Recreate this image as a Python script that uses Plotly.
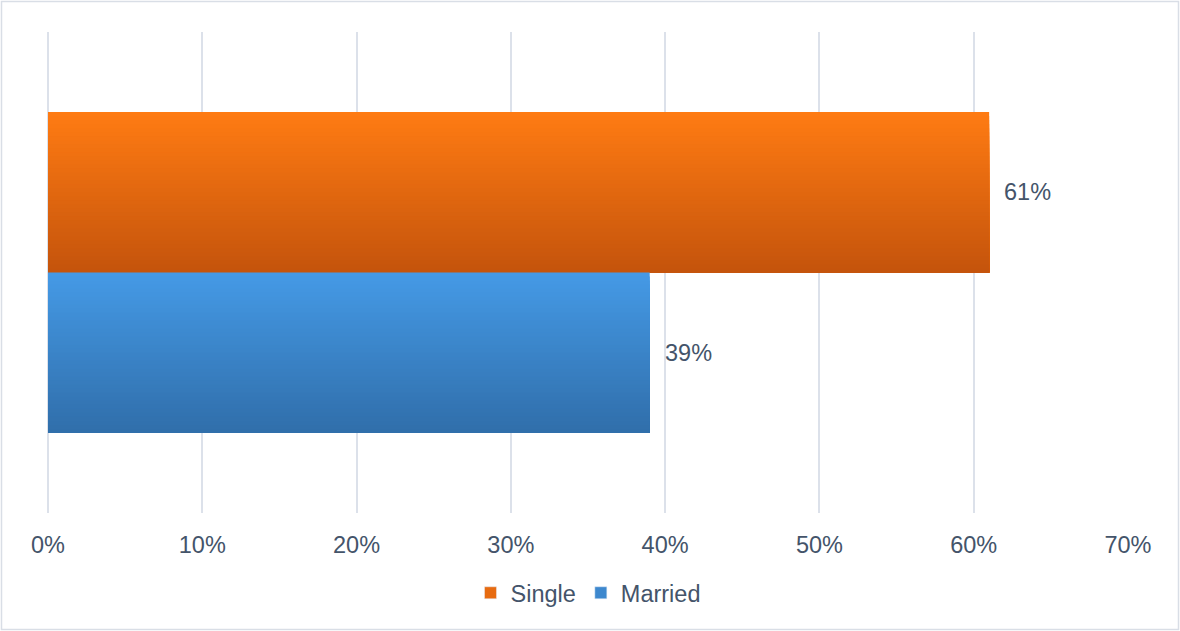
import plotly.graph_objects as go

# Share of respondents by marital status
series = ["Single", "Married"]
shares = [0.61, 0.39]

# Vertical gradient stops (top colour, bottom colour) for each series
grad_top = {"Single": (255, 123, 19), "Married": (69, 154, 230)}
grad_bottom = {"Single": (196, 84, 12), "Married": (48, 110, 170)}

x_ticks = [0, 0.1, 0.2, 0.3, 0.4, 0.5, 0.6, 0.7]

TEXT = "#44546A"
GRID = "#DCE1EA"
FONT = "Liberation Sans, Arial, sans-serif"
FS = 23.5

BAR_H = 0.3335      # thickness of each bar on the hidden y scale
STRIPS = 40         # layers used to shade each bar


def mix(c0, c1, t):
    return "rgb({},{},{})".format(*[round(a + (b - a) * t) for a, b in zip(c0, c1)])


fig = go.Figure()

# Single sits above the centre line, Married below it
bar_bottom = {"Single": 0.0, "Married": -BAR_H}

for name, val in zip(series, shares):
    step = BAR_H / STRIPS
    widths, colors = [], []
    # every layer starts at the bar's bottom edge; taller layers are drawn first
    # and the shorter, darker ones are painted over them, so no seams appear
    for k in range(STRIPS):
        widths.append(BAR_H - k * step)
        colors.append(mix(grad_top[name], grad_bottom[name], (k + 0.5) / STRIPS))
    fig.add_trace(go.Bar(
        name=name,
        orientation="h",
        x=[val] * STRIPS,
        y=[0] * STRIPS,
        base=0,
        offset=[bar_bottom[name]] * STRIPS,
        width=widths,
        marker=dict(color=colors, line=dict(width=0)),
        showlegend=False,
        hoverinfo="skip",
    ))
    # legend swatch
    fig.add_trace(go.Bar(
        name=name,
        orientation="h",
        x=[None],
        y=[None],
        marker=dict(color=mix(grad_top[name], grad_bottom[name], 0.4)),
        showlegend=True,
        hoverinfo="skip",
    ))
    fig.add_annotation(
        x=val, y=bar_bottom[name] + BAR_H / 2,
        xref="x", yref="y",
        text=f"{val:.0%}",
        showarrow=False,
        xanchor="left", yanchor="middle",
        xshift=13,
        font=dict(family=FONT, size=FS, color=TEXT),
    )

L, R, T, B = 48, 52, 32, 118
W, H = 1180, 631
pw, ph = W - L - R, H - T - B

# outer chart border
fig.add_shape(
    type="rect", xref="paper", yref="paper",
    x0=(1.5 - L) / pw, x1=(W - 1.5 - L) / pw,
    y0=-(H - 1.5 - T - ph) / ph, y1=1 + (T - 1.5) / ph,
    line=dict(color="#D9DEE6", width=1.5),
    fillcolor="rgba(0,0,0,0)",
    layer="below",
)

fig.update_layout(
    width=W, height=H,
    margin=dict(l=L, r=R, t=T, b=B),
    paper_bgcolor="white",
    plot_bgcolor="white",
    barmode="overlay",
    font=dict(family=FONT, size=FS, color=TEXT),
    showlegend=True,
    legend=dict(
        orientation="h",
        x=0.5, xanchor="center",
        y=-(593 - (T + ph)) / ph, yanchor="middle",
        font=dict(family=FONT, size=FS, color=TEXT),
        itemwidth=30,
        tracegroupgap=0,
    ),
    xaxis=dict(
        range=[0, 0.7],
        tickvals=x_ticks,
        tickformat=".0%",
        showgrid=True,
        gridcolor=GRID,
        gridwidth=1.5,
        zeroline=True,
        zerolinecolor=GRID,
        zerolinewidth=1.5,
        showline=False,
        ticks="",
        ticklabelstandoff=15,
        tickfont=dict(family=FONT, size=FS, color=TEXT),
        fixedrange=True,
    ),
    yaxis=dict(
        range=[-0.5, 0.5],
        showgrid=False,
        zeroline=False,
        showticklabels=False,
        showline=False,
        fixedrange=True,
    ),
)

fig.write_html("out.html")
